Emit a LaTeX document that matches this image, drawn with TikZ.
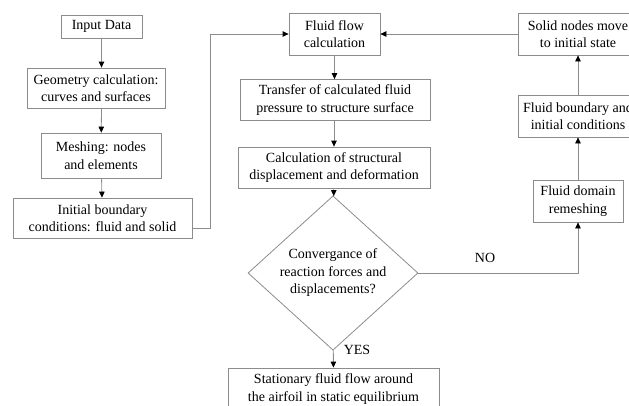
\documentclass[tikz,border=0pt]{standalone}
\usepackage{fontspec}
\setmainfont{Liberation Serif}
\usetikzlibrary{arrows.meta,shapes.geometric}

\begin{document}
\begin{tikzpicture}[x=1pt,y=-1pt,
	box/.style={draw=black!45, line width=0.8pt, align=center, inner sep=0pt,
		font=\fontsize{14}{17.5}\selectfont},
	decision/.style={box, diamond, minimum width=170, minimum height=120},
	link/.style={draw=black!45, line width=0.8pt,
		-{Triangle[length=6pt,width=5.5pt,color=black]}},
	tag/.style={font=\fontsize{14}{17.5}\selectfont}]

% frame %{{{2

	\useasboundingbox (0,0) rectangle (629,405);
	\clip (0,0) rectangle (629,405);

% left column %{{{2

	\node[box, minimum width=81, minimum height=23] (input) at (101.5,26.5) {Input Data};
	\node[box, minimum width=138, minimum height=40] (geom) at (96,88)
		{Geometry calculation:\\curves and surfaces};
	\node[box, minimum width=120, minimum height=45] (mesh) at (101,155.5)
		{Meshing: nodes\\and elements};
	\node[box, minimum width=179, minimum height=40] (init) at (102.5,218)
		{Initial boundary\\conditions: fluid and solid};

% middle column %{{{2

	\node[box, minimum width=91, minimum height=42] (flow) at (334.5,34)
		{Fluid flow\\calculation};
	\node[box, minimum width=190, minimum height=41] (transfer) at (335,100)
		{Transfer of calculated fluid\\pressure to structure surface};
	\node[box, minimum width=192, minimum height=41] (calc) at (334,167.5)
		{Calculation of structural\\displacement and deformation};
	\node[decision] (conv) at (333,273)
		{Convergance of\\reaction forces and\\displacements?};
	\node[box, minimum width=211, minimum height=42] (stat) at (333.5,389)
		{Stationary fluid flow around\\the airfoil in static equilibrium};

% right column %{{{2

	\node[box, minimum width=90, minimum height=42] (domain) at (578,201)
		{Fluid domain\\remeshing};
	\node[box, minimum width=120, minimum height=42] (bound) at (578,116)
		{Fluid boundary and\\initial conditions};
	\node[box, minimum width=120, minimum height=42] (solid) at (578,34)
		{Solid nodes move\\to initial state};

% connectors %{{{2

	\draw[link] (input) -- (input |- geom.north);
	\draw[link] (input |- geom.south) -- (mesh);
	\draw[link] (mesh) -- (init);
	\draw[link] ([yshift=-10pt]init.east) -- ++(18,0) |- (flow.west);

	\draw[link] (flow) -- (flow |- transfer.north);
	\draw[link] (calc |- transfer.south) -- (calc);
	\draw[link] (calc) -- (conv);
	\draw[link] (conv) -- (stat);
	\draw[link] (conv.east) -| (domain.south);

	\draw[link] (domain) -- (bound);
	\draw[link] (bound) -- (solid);
	\draw[link] (solid) -- (flow);

% labels %{{{2

	\node[tag] (yes) at (357,350) {YES};
	\node[tag] (no) at (485,258) {NO};

% closing %{{{2

\end{tikzpicture}
\end{document}
